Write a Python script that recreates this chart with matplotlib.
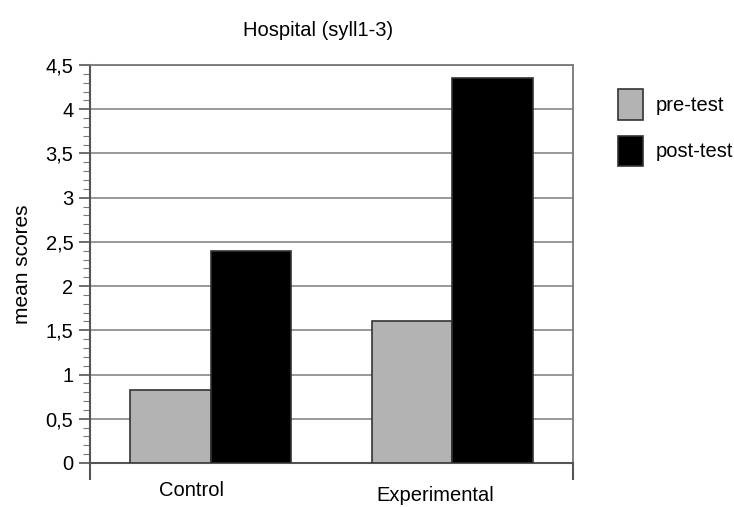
import matplotlib.pyplot as plt
import matplotlib.transforms as mtransforms
import numpy as np
from matplotlib.ticker import MultipleLocator, FuncFormatter, FixedLocator

plt.rcParams['font.family'] = ['Liberation Sans', 'DejaVu Sans']

groups = ['Control', 'Experimental']
pre_test = [0.82, 1.6]
post_test = [2.4, 4.35]

fig = plt.figure(figsize=(7.34, 5.07), dpi=100)
ax = fig.add_axes([90 / 734, 1 - 463 / 507, 483 / 734, 398 / 507])

x = np.arange(len(groups))
w = 1 / 3
ax.bar(x - w / 2, pre_test, w, color='#b3b3b3', edgecolor='#333333', linewidth=1.2, label='pre-test', zorder=3)
ax.bar(x + w / 2, post_test, w, color='black', edgecolor='#333333', linewidth=1.2, label='post-test', zorder=3)

ax.set_xlim(-0.5, 1.5)
ax.set_ylim(0, 4.5)
ax.yaxis.set_major_locator(MultipleLocator(0.5))
ax.yaxis.set_minor_locator(MultipleLocator(0.1))
ax.yaxis.set_major_formatter(FuncFormatter(lambda v, p: f'{v:g}'.replace('.', ',')))
ax.grid(axis='y', color='#888888', linewidth=1.2, zorder=0)

# group boundaries as major ticks, group names as minor tick labels
ax.xaxis.set_major_locator(FixedLocator([-0.5, 1.5]))
ax.xaxis.set_major_formatter(FuncFormatter(lambda v, p: ''))
ax.set_xticks(x, minor=True)
ax.set_xticklabels(groups, minor=True, fontsize=14.5)
ax.tick_params(axis='x', which='major', length=12, width=1.5, color='#555555')
ax.tick_params(axis='x', which='minor', length=0, pad=13)
shifts = [(-19, 0), (-17, -5)]
for lab, (dx, dy) in zip(ax.xaxis.get_minorticklabels(), shifts):
    lab.set_transform(lab.get_transform() + mtransforms.ScaledTranslation(dx / 100, dy / 100, fig.dpi_scale_trans))

ax.tick_params(axis='y', which='major', length=8, width=1.2, color='#555555', labelsize=14.5, pad=4)
ax.tick_params(axis='y', which='minor', length=5, width=0.8, color='#777777')

for s in ['top', 'right']:
    ax.spines[s].set_color('#777777')
    ax.spines[s].set_linewidth(1.3)
for s in ['left', 'bottom']:
    ax.spines[s].set_color('#555555')
    ax.spines[s].set_linewidth(1.5)

ax.set_ylabel('mean scores', fontsize=15, labelpad=10)
ax.set_title('Hospital (syll1-3)', fontsize=14.5, pad=21, x=0.473)

ax.legend(loc='upper left', bbox_to_anchor=(1.055, 0.985), frameon=False, fontsize=14.5,
          handlelength=1.25, handleheight=1.95, labelspacing=0.8, handletextpad=0.65)

plt.savefig('out.png', dpi=100)
